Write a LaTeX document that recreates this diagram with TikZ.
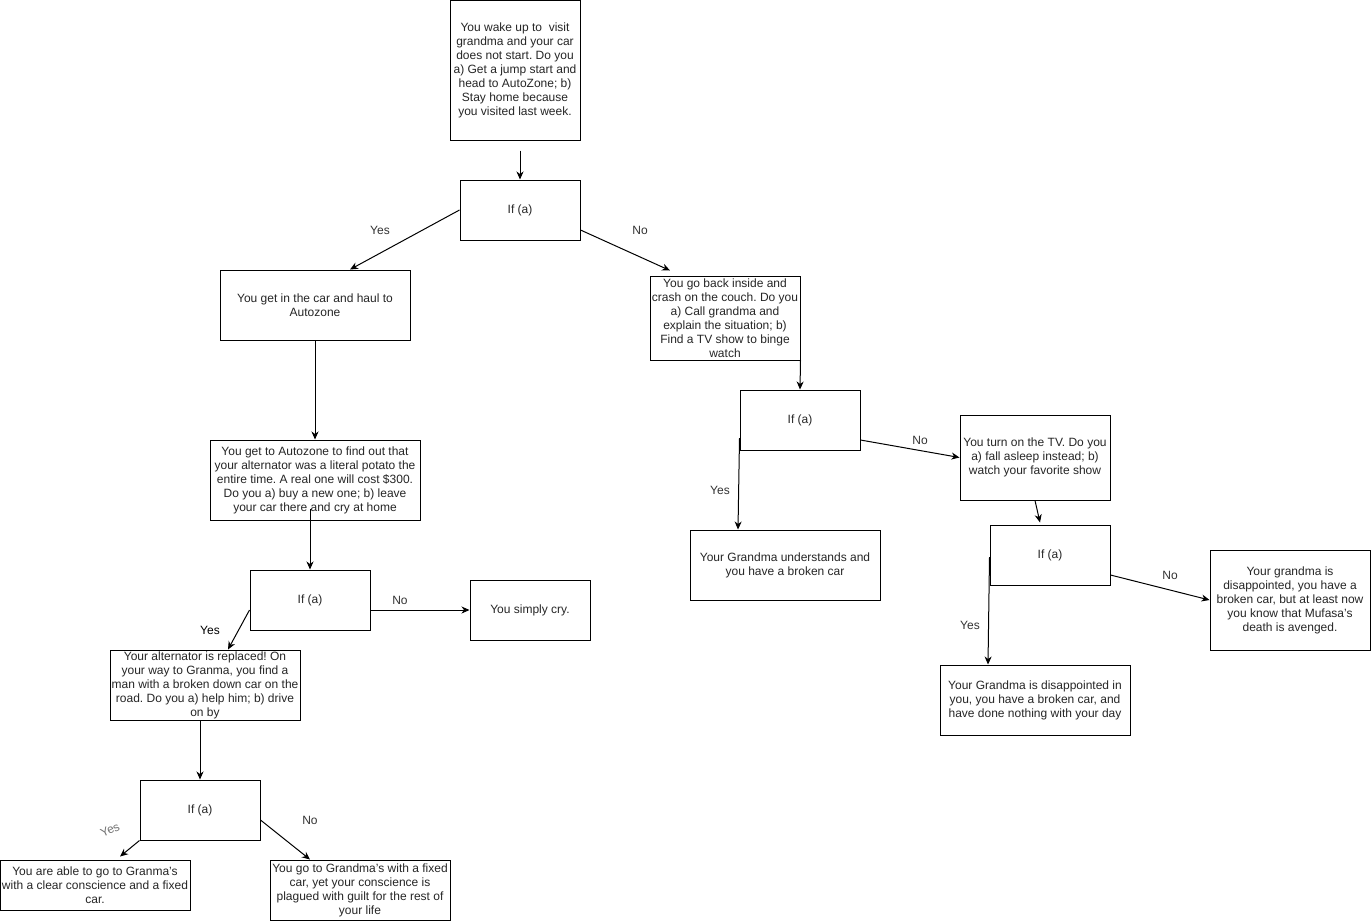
\documentclass[tikz,border=0pt]{standalone}
\usepackage{fontspec}
\setmainfont{Liberation Sans}
\usetikzlibrary{arrows.meta}
\frenchspacing
\begin{document}
\begin{tikzpicture}[x=1pt,y=-1pt,
  box/.style={draw=black, line width=1pt, inner sep=0pt, align=center,
    font=\fontsize{12}{14}\selectfont\frenchspacing, text=black!85},
  lbl/.style={font=\fontsize{12}{14}\selectfont, text=black!80, inner sep=0pt},
  arr/.style={line width=1pt, -{Stealth[length=8pt,width=7pt,inset=2.5pt]}}]
\useasboundingbox[fill=white] (0,0) rectangle (1371,922);
% nodes
\node[box, minimum width=130pt, minimum height=140pt] (start) at (515,70)
  {You wake up to\ \ visit\\grandma and your car\\does not start. Do you\\a) Get a jump start and\\head to AutoZone; b)\\Stay home because\\you visited last week.};
\node[box, minimum width=120pt, minimum height=60pt] (if1) at (520,210) {If (a)};
\node[box, minimum width=190pt, minimum height=70pt] (car) at (315,305)
  {You get in the car and haul to\\Autozone};
\node[box, minimum width=150pt, minimum height=84pt] (couch) at (725,318)
  {You go back inside and\\crash on the couch. Do you\\a) Call grandma and\\explain the situation; b)\\Find a TV show to binge\\watch};
\node[box, minimum width=210pt, minimum height=80pt] (az) at (315,480)
  {You get to Autozone to find out that\\your alternator was a literal potato the\\entire time. A real one will cost \$300.\\Do you a) buy a new one; b) leave\\your car there and cry at home};
\node[box, minimum width=120pt, minimum height=60pt] (if2) at (310,600) {If (a)};
\node[box, minimum width=120pt, minimum height=60pt] (cry) at (530,610) {You simply cry.};
\node[box, minimum width=190pt, minimum height=70pt] (alt) at (205,685)
  {Your alternator is replaced! On\\your way to Granma, you find a\\man with a broken down car on the\\road. Do you a) help him; b) drive\\on by};
\node[box, minimum width=120pt, minimum height=60pt] (if3) at (200,810) {If (a)};
\node[box, minimum width=190pt, minimum height=50pt] (clear) at (95,885)
  {You are able to go to Granma's\\with a clear conscience and a fixed\\car.};
\node[box, minimum width=180pt, minimum height=60pt] (guilt) at (360,890)
  {You go to Grandma's with a fixed\\car, yet your conscience is\\plagued with guilt for the rest of\\your life};
\node[box, minimum width=120pt, minimum height=60pt] (if4) at (800,420) {If (a)};
\node[box, minimum width=190pt, minimum height=70pt] (und) at (785,565)
  {Your Grandma understands and\\you have a broken car};
\node[box, minimum width=150pt, minimum height=85pt] (tv) at (1035,457.5)
  {You turn on the TV. Do you\\a) fall asleep instead; b)\\watch your favorite show};
\node[box, minimum width=120pt, minimum height=60pt] (if5) at (1050,555) {If (a)};
\node[box, minimum width=190pt, minimum height=70pt] (nothing) at (1035,700)
  {Your Grandma is disappointed in\\you, you have a broken car, and\\have done nothing with your day};
\node[box, minimum width=160pt, minimum height=100pt] (mufasa) at (1290,600)
  {Your grandma is\\disappointed, you have a\\broken car, but at least now\\you know that Mufasa's\\death is avenged.};
% labels
\node[lbl] (l1) at (380,230) {Yes};
\node[lbl] (l2) at (640,230) {No};
\node[lbl] (l3) at (400,600) {No};
\node[lbl, text=black] (l4) at (210,630) {Yes};
\node[lbl, text=black!55, rotate=25] (l5) at (110,830) {Yes};
\node[lbl] (l6) at (310,820) {No};
\node[lbl] (l7) at (720,490) {Yes};
\node[lbl] (l8) at (920,440) {No};
\node[lbl] (l9) at (970,625) {Yes};
\node[lbl] (l10) at (1170,575) {No};
% connectors
\coordinate (s1) at ([xshift=5pt,yshift=-10pt]start.south);
\draw[arr] (s1) -- (if1.north);
\draw[arr] (if1.west) -- ([xshift=35pt]car.north);
\draw[arr] ([yshift=-20pt]if1.east) -- ([xshift=-55pt,yshift=5pt]couch.north);
\draw[arr] (car.south) -- (az.north);
\coordinate (s2) at ([xshift=-5pt,yshift=12pt]az.south);
\draw[arr] (s2) -- (if2.north);
\draw[arr] ([yshift=-10pt]if2.east) -- (cry.west);
\draw[arr] ([yshift=-10pt]if2.west) -- ([xshift=23pt]alt.north);
\draw[arr] ([xshift=-5pt]alt.south) -- (if3.north);
\draw[arr] (if3.south west) -- ([xshift=25pt,yshift=3pt]clear.north);
\draw[arr] ([yshift=-10pt]if3.east) -- ([xshift=-50pt]guilt.north);
\draw[arr] (couch.south east) -- (if4.north);
\draw[arr] ([yshift=-18pt]if4.west) -- ([xshift=-47pt]und.north);
\draw[arr] ([yshift=-20pt]if4.east) -- (tv.west);
\draw[arr] (tv.south) -- ([xshift=-10pt,yshift=2pt]if5.north);
\draw[arr] ([yshift=-2pt]if5.west) -- ([xshift=-47pt]nothing.north);
\draw[arr] ([yshift=-20pt]if5.east) -- (mufasa.west);
\end{tikzpicture}
\end{document}
